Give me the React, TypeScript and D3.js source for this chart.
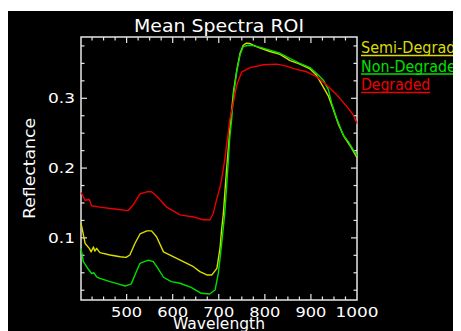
import * as d3 from 'd3';
import React from 'react';

// spectra: [wavelength, reflectance]
const semiDegraded: [number, number][] = [
  [401, 0.121], [410, 0.092], [419, 0.085], [423, 0.08], [428, 0.087], [431, 0.081], [435, 0.085],
  [442, 0.0788], [464, 0.0755], [486, 0.073], [499, 0.072], [507, 0.0755], [518, 0.092],
  [529, 0.1056], [544, 0.11], [554, 0.11], [565, 0.1017], [580, 0.08], [601, 0.073],
  [623, 0.066], [645, 0.0587], [659, 0.0516], [674, 0.0469], [685, 0.0469], [696, 0.0564],
  [703, 0.087], [706, 0.111], [710, 0.135], [716, 0.19], [724, 0.255], [732, 0.31],
  [739, 0.34], [746, 0.364], [753, 0.376], [760, 0.379], [767, 0.3785], [775, 0.376],
  [790, 0.372], [811, 0.367], [833, 0.363], [855, 0.354], [876, 0.349], [898, 0.342],
  [912, 0.333], [925, 0.318], [938, 0.303], [948, 0.285], [960, 0.262], [972, 0.245],
  [985, 0.232], [1000, 0.215],
];

const nonDegraded: [number, number][] = [
  [401, 0.085], [406, 0.066], [410, 0.062], [417, 0.055], [424, 0.049], [429, 0.05], [435, 0.044],
  [442, 0.042], [464, 0.0373], [481, 0.034], [497, 0.031], [510, 0.034], [515, 0.042],
  [521, 0.0516], [529, 0.0636], [547, 0.068], [558, 0.066], [568, 0.0564], [580, 0.0436],
  [597, 0.0373], [616, 0.035], [640, 0.029], [662, 0.0206], [680, 0.0196], [692, 0.0254],
  [699, 0.049], [706, 0.09], [713, 0.135], [718, 0.183], [724, 0.245], [728, 0.27],
  [732, 0.305], [739, 0.338], [746, 0.362], [753, 0.374], [764, 0.376], [775, 0.3755],
  [790, 0.373], [811, 0.369], [833, 0.3645], [855, 0.357], [876, 0.35], [898, 0.344],
  [912, 0.336], [927, 0.326], [938, 0.312], [945, 0.293], [956, 0.271], [970, 0.2474],
  [981, 0.238], [992, 0.226], [1000, 0.218],
];

const degraded: [number, number][] = [
  [401, 0.165], [410, 0.154], [419, 0.155], [424, 0.146], [442, 0.144], [478, 0.141],
  [503, 0.139], [514, 0.147], [529, 0.163], [544, 0.166], [554, 0.166], [565, 0.16],
  [587, 0.144], [616, 0.133], [645, 0.13], [666, 0.126], [681, 0.126], [688, 0.135],
  [695, 0.154], [702, 0.171], [706, 0.183], [713, 0.212], [724, 0.269], [732, 0.295],
  [739, 0.319], [750, 0.338], [768, 0.344], [797, 0.348], [826, 0.349], [847, 0.346],
  [869, 0.3415], [891, 0.338], [912, 0.331], [934, 0.319], [956, 0.305], [978, 0.288],
  [992, 0.276], [1000, 0.264],
];

const seriesNames = ['Semi-Degraded', 'Non-Degraded', 'Degraded'];
const seriesColors = ['#dcdc00', '#00e000', '#ee0000'];
const seriesData = [semiDegraded, nonDegraded, degraded];

const xMajor = [500, 600, 700, 800, 900, 1000];
const yMajor = [0.1, 0.2, 0.3];

export default function App() {
  // page coordinates, shifted back by body margin below
  const left = 81, right = 357, top = 37, bottom = 300;
  const x = d3.scaleLinear().domain([401, 1000]).range([left, right]);
  const y = d3.scaleLinear().domain([0.011, 0.3878]).range([bottom, top]);

  const line = d3.line<[number, number]>()
    .x(d => x(d[0]))
    .y(d => y(d[1]));

  const xMinor = d3.range(425, 1000, 25);
  const yMinor = d3.range(0.025, 0.38, 0.025);
  const axisColor = '#e6e6e6';
  const font = 'DejaVu Sans, sans-serif';

  return (
    <svg width={453} height={323} style={{ display: 'block' }}>
      <g transform="translate(-8,-8)">
        <rect x={8} y={11} width={453} height={320} fill="black" />

        <text x={(left + right) / 2} y={32} textAnchor="middle" fill="white"
          fontFamily={font} fontSize={17} textLength={170} lengthAdjust="spacingAndGlyphs">
          Mean Spectra ROI
        </text>

        {/* frame */}
        <rect x={left} y={top} width={right - left} height={bottom - top}
          fill="none" stroke={axisColor} strokeWidth={1.5} />

        {/* x ticks, bottom and top */}
        {xMinor.map(v => {
          const major = xMajor.includes(v);
          const len = major ? 6 : 3.5;
          return (
            <g key={'xt' + v} stroke={axisColor} strokeWidth={1.2}>
              <line x1={x(v)} x2={x(v)} y1={bottom} y2={bottom - len} />
              <line x1={x(v)} x2={x(v)} y1={top} y2={top + len} />
            </g>
          );
        })}
        {xMajor.map(v => (
          <text key={'xl' + v} x={x(v)} y={316.5} textAnchor="middle" fill="white"
            fontFamily={font} fontSize={14} textLength={v === 1000 ? 43 : 31}
            lengthAdjust="spacingAndGlyphs">
            {v}
          </text>
        ))}

        {/* y ticks, left and right */}
        {yMinor.map(v => {
          const major = yMajor.some(m => Math.abs(m - v) < 1e-6);
          const len = major ? 6 : 3.5;
          return (
            <g key={'yt' + v.toFixed(3)} stroke={axisColor} strokeWidth={1.2}>
              <line x1={left} x2={left + len} y1={y(v)} y2={y(v)} />
              <line x1={right} x2={right - len} y1={y(v)} y2={y(v)} />
            </g>
          );
        })}
        {yMajor.map(v => (
          <text key={'yl' + v} x={75} y={y(v) + 5} textAnchor="end" fill="white"
            fontFamily={font} fontSize={14} textLength={27} lengthAdjust="spacingAndGlyphs">
            {v.toFixed(1)}
          </text>
        ))}

        <text x={(left + right) / 2} y={329} textAnchor="middle" fill="white"
          fontFamily={font} fontSize={15} textLength={92} lengthAdjust="spacingAndGlyphs">
          Wavelength
        </text>
        <text transform={`translate(35,${(top + bottom) / 2}) rotate(-90)`} textAnchor="middle"
          fill="white" fontFamily={font} fontSize={15} textLength={101} lengthAdjust="spacingAndGlyphs">
          Reflectance
        </text>

        {/* spectra */}
        {seriesData.map((d, i) => (
          <path key={seriesNames[i]} d={line(d) || ''} fill="none"
            stroke={seriesColors[i]} strokeWidth={1.4} strokeLinejoin="round" />
        ))}

        {/* legend */}
        {seriesNames.map((name, i) => {
          const base = 53 + i * 18.5;
          const w = name.length * 8.65;
          return (
            <g key={'lg' + name}>
              <text x={361} y={base} fill={seriesColors[i]} fontFamily={font} fontSize={15}
                textLength={w} lengthAdjust="spacingAndGlyphs">
                {name}
              </text>
              <line x1={361} x2={361 + w} y1={base + 2.5} y2={base + 2.5}
                stroke={seriesColors[i]} strokeWidth={1.5} />
            </g>
          );
        })}
      </g>
    </svg>
  );
}
